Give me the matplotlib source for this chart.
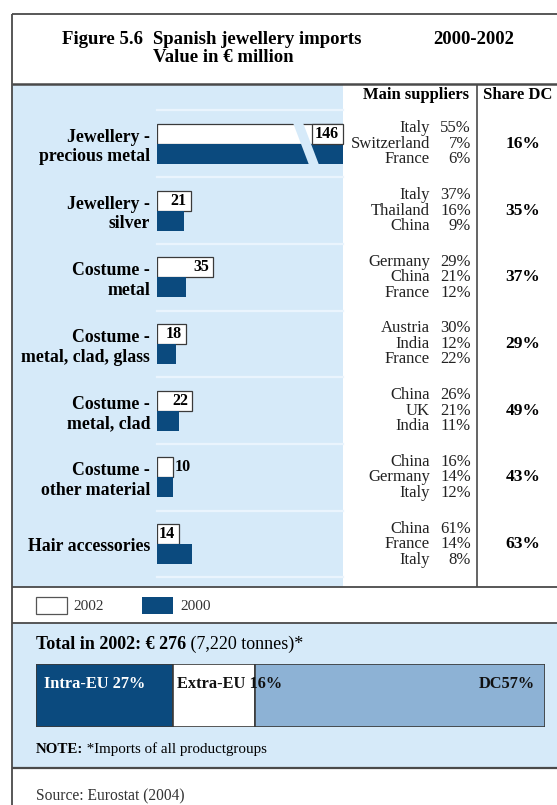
import numpy as np
import matplotlib
matplotlib.use('Agg')
import matplotlib.pyplot as plt
from matplotlib.patches import Rectangle, Polygon
from matplotlib.transforms import blended_transform_factory

plt.rcParams['font.family'] = ['Liberation Serif', 'DejaVu Serif']

# product groups, values in EUR million
categories = ['Jewellery -\nprecious metal', 'Jewellery -\nsilver', 'Costume -\nmetal',
              'Costume -\nmetal, clad, glass', 'Costume -\nmetal, clad',
              'Costume -\nother material', 'Hair accessories']
imports_2002 = [146, 21, 35, 18, 22, 10, 14]
imports_2000 = [150, 17, 18, 12, 14, 10, 22]

supplier_names = [['Italy', 'Switzerland', 'France'],
                  ['Italy', 'Thailand', 'China'],
                  ['Germany', 'China', 'France'],
                  ['Austria', 'India', 'France'],
                  ['China', 'UK', 'India'],
                  ['China', 'Germany', 'Italy'],
                  ['China', 'France', 'Italy']]
supplier_shares = [[55, 7, 6], [37, 16, 9], [29, 21, 12], [30, 12, 22],
                   [26, 21, 11], [16, 14, 12], [61, 14, 8]]
share_dc = [16, 35, 37, 29, 49, 43, 63]

origin_labels = ['Intra-EU ', 'Extra-EU ', 'DC']
origin_shares = [27, 16, 57]

navy = '#0b4a7e'
light = '#d6eaf9'
dc_blue = '#8db2d5'
edge = '#3a3a3a'
sep = '#eaf4fd'

W, H = 557, 805
fig = plt.figure(figsize=(W / 100, H / 100), dpi=100)

# background layer in pixel units
bg = fig.add_axes([0, 0, 1, 1])
bg.set_xlim(0, W)
bg.set_ylim(H, 0)
bg.axis('off')

bg.add_patch(Rectangle((12, 84), 331, 503, fc=light, ec='none'))
bg.add_patch(Rectangle((12, 623), W - 12, 145, fc=light, ec='none'))
for xs, ys, lw in [([12, W], [14, 14], 1.3), ([12, 12], [14, H], 1.3),
                   ([12, W], [84, 84], 1.8), ([12, W], [587, 587], 1.3),
                   ([12, W], [623, 623], 1.3), ([12, W], [768, 768], 1.6),
                   ([477, 477], [84, 587], 1.2)]:
    bg.plot(xs, ys, color='#4a4a4a', lw=lw, solid_capstyle='butt')

# title
bg.text(62, 40, 'Figure 5.6', fontsize=13.5, fontweight='bold', va='center')
bg.text(153, 40, 'Spanish jewellery imports', fontsize=13.5, fontweight='bold', va='center')
bg.text(153, 58, 'Value in € million', fontsize=13.5, fontweight='bold', va='center')
bg.text(433, 40, '2000-2002', fontsize=13.5, fontweight='bold', va='center')

# column headers
bg.text(416, 95, 'Main suppliers', fontsize=12, fontweight='bold', ha='center', va='center')
bg.text(518, 95, 'Share DC', fontsize=12, fontweight='bold', ha='center', va='center')

# bar panel
x0, x1 = 157, 343
y_top, pitch = 110.5, 66.7
n = len(categories)
px_per_unit = 1.6
ax = fig.add_axes([x0 / W, 1 - (y_top + pitch * n) / H, (x1 - x0) / W, pitch * n / H])
ax.patch.set_alpha(0)
ax.set_xlim(0, (x1 - x0) / px_per_unit)
ax.set_ylim(n - 0.5, -0.5)
for s in ax.spines.values():
    s.set_visible(False)

rows = np.arange(n)
bh = 0.3
for k in range(n + 1):
    ax.axhline(k - 0.5, color=sep, lw=1.6, clip_on=False, zorder=0)
ax.barh(rows - bh / 2, imports_2002, height=bh, color='white', edgecolor=edge, lw=0.9, zorder=2)
ax.barh(rows + bh / 2, imports_2000, height=bh, color=navy, zorder=2)

ax.set_xticks([])
ax.set_yticks(rows, labels=categories, fontsize=12.8, fontweight='bold')
ax.tick_params(axis='y', length=0, pad=5)
for lbl in ax.get_yticklabels():
    lbl.set_linespacing(1.2)

# break in the off-scale bars
cy = y_top + pitch * 0.5
top, bot = cy - bh * pitch - 1, cy + bh * pitch + 1
ax.add_patch(Polygon([(293, top), (303, top), (319, bot), (309, bot)], closed=True,
                     fc=light, ec='none', transform=bg.transData, clip_on=False, zorder=3))
ax.add_patch(Rectangle((312, cy - bh * pitch), 31, bh * pitch, fc='white', ec=edge, lw=0.9,
                       transform=bg.transData, clip_on=False, zorder=3.5))

xmax = ax.get_xlim()[1]
for i, v in enumerate(imports_2002):
    if v > xmax:
        x, ha, off = xmax, 'right', -3
    elif v * px_per_unit < 20:
        x, ha, off = v, 'left', 1.5
    else:
        x, ha, off = v, 'right', -3
    ax.annotate(str(v), (x, i - bh / 2), xytext=(off, 0), textcoords='offset points',
                ha=ha, va='center', fontsize=11.5, fontweight='bold', zorder=4)

# supplier table, rows share the bar axis y scale
tr = blended_transform_factory(bg.transData, ax.transData)
for i in range(n):
    for k in range(3):
        y = i + (k - 1) * 0.232
        ax.text(430, y, supplier_names[i][k], transform=tr, ha='right', va='center',
                fontsize=12, color='#222222', clip_on=False)
        ax.text(471, y, f'{supplier_shares[i][k]}%', transform=tr, ha='right', va='center',
                fontsize=12, color='#222222', clip_on=False)
    ax.text(523, i, f'{share_dc[i]}%', transform=tr, ha='center', va='center',
            fontsize=12.5, fontweight='bold', clip_on=False)

# legend
bg.add_patch(Rectangle((36, 597), 31, 17, fc='white', ec='#555555', lw=0.9))
bg.text(73, 606, '2002', fontsize=11, va='center', color='#333333')
bg.add_patch(Rectangle((142, 597), 31, 17, fc=navy, ec='none'))
bg.text(180, 606, '2000', fontsize=11, va='center', color='#333333')

# total box
t = bg.text(36, 644, 'Total in 2002: € 276', fontsize=13, fontweight='bold', va='center')
bg.annotate(' (7,220 tonnes)*', xy=(1, 0), xycoords=t, va='bottom', fontsize=13)

sb = fig.add_axes([35.5 / W, 1 - 727 / H, 509.5 / W, 63 / H])
sb.set_xlim(0, 100)
sb.set_ylim(0, 1)
sb.axis('off')
seg_colors = [navy, 'white', dc_blue]
txt_colors = ['white', '#111111', '#111111']
left = 0
for lab, val, c, tc in zip(origin_labels, origin_shares, seg_colors, txt_colors):
    sb.barh(0.5, val, left=left, height=1, color=c, edgecolor=edge, lw=1.2)
    if lab == 'DC':
        sb.annotate(f'{lab}{val}%', (left + val, 0.68), xytext=(-7, 0), textcoords='offset points',
                    ha='right', va='center', fontsize=11.8, fontweight='bold', color=tc)
    else:
        pad = 6 if left == 0 else 3
        sb.annotate(f'{lab}{val}%', (left, 0.68), xytext=(pad, 0), textcoords='offset points',
                    ha='left', va='center', fontsize=11.8, fontweight='bold', color=tc)
    left += val

t2 = bg.text(36, 749, 'NOTE:', fontsize=10.8, fontweight='bold', va='center')
bg.annotate(' *Imports of all productgroups', xy=(1, 0), xycoords=t2, va='bottom', fontsize=10.8)

bg.text(36, 796, 'Source: Eurostat (2004)', fontsize=11.2, va='center', color='#333333')

fig.savefig('out.png', dpi=100)
